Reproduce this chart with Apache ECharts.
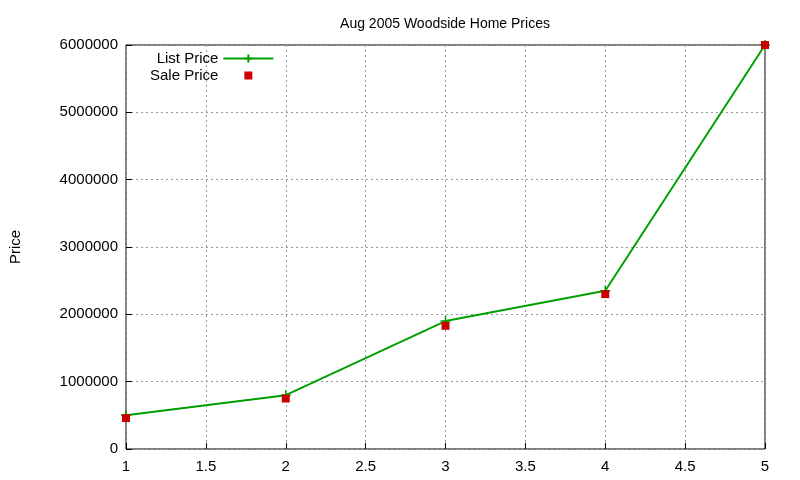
<!DOCTYPE html>
<html><head><meta charset="utf-8">
<script src="https://cdn.jsdelivr.net/npm/echarts@6/dist/echarts.min.js"></script>
<style>html,body{margin:0;background:#fff}#c{width:800px;height:480px}</style>
</head><body><div id="c"></div>
<script>
var xs = [1, 2, 3, 4, 5];
var listPrice = [500000, 800000, 1900000, 2350000, 6000000];
var salePrice = [460000, 750000, 1830000, 2300000, 6000000];
var ch = echarts.init(document.getElementById('c'));
var font = 'Liberation Sans, Arial, sans-serif';
function pairs(v){return xs.map(function(x,i){return [x,v[i]];});}
ch.setOption({
  animation:false,
  title:{text:'Aug 2005 Woodside Home Prices',left:440,top:12,textAlign:'center',textStyle:{fontSize:14,fontWeight:'normal',color:'#000',fontFamily:font}},
  grid:{left:119,right:35,top:45,bottom:31,show:true,borderColor:'#000',borderWidth:1},
  legend:{left:145,top:46,orient:'vertical',align:'right',itemGap:2,itemWidth:50,itemHeight:10,
    textStyle:{fontSize:15,color:'#000',fontFamily:font},
    data:[{name:'List Price'},{name:'Sale Price',icon:'path://M-25,-5L-24.9,-5M25,5L24.9,5M-4,-4L4,-4L4,4L-4,4Z'}]},
  xAxis:{type:'value',min:1,max:5,interval:0.5,
    axisLine:{show:false},axisTick:{inside:true,length:6,lineStyle:{color:'#000'}},
    axisLabel:{color:'#000',fontSize:15,fontFamily:font,margin:10},
    splitLine:{lineStyle:{color:'#999',type:[2,3]}}},
  yAxis:{type:'value',min:0,max:6000000,interval:1000000,name:'Price',nameLocation:'middle',nameGap:103,
    nameTextStyle:{fontSize:15,color:'#000',fontFamily:font},
    axisLine:{show:false},axisTick:{inside:true,length:6,lineStyle:{color:'#000'}},
    axisLabel:{color:'#000',fontSize:15,fontFamily:font,margin:8,formatter:function(v){return String(v);}},
    splitLine:{lineStyle:{color:'#999',type:[2,3]}}},
  series:[
    {name:'List Price',type:'line',data:pairs(listPrice),symbol:'path://M0,-5L0,5M-5,0L5,0',symbolSize:10,
      lineStyle:{color:'#00a000',width:2},itemStyle:{color:'#00a000',borderColor:'#00a000',borderWidth:1.5},z:2},
    {name:'Sale Price',type:'scatter',data:pairs(salePrice),symbol:'rect',symbolSize:8,
      itemStyle:{color:'#cc0000',opacity:1},z:3}
  ]
});
</script></body></html>
